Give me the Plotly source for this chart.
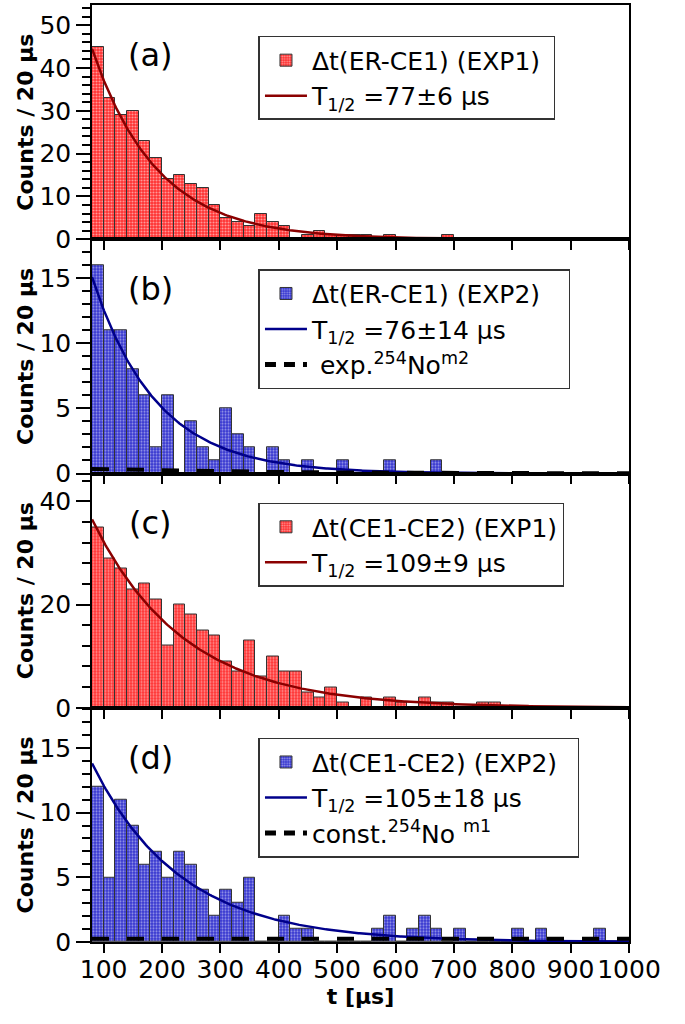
import numpy as np
import plotly.graph_objects as go
from plotly.subplots import make_subplots

# ---------------- data ----------------
bin_width = 20
bin_left = list(range(80, 1000, 20))          # 46 bins: 80..980
bin_center = [b + bin_width / 2 for b in bin_left]

counts_a = [45, 33, 29, 30, 23, 19, 14, 15, 13, 12,
            8, 5, 4, 3, 6, 4, 3, 0, 1, 2,
            1, 1, 1, 1, 0, 1, 0, 0, 0, 0,
            1, 0, 0, 0, 0, 0, 0, 0, 0, 0,
            0, 0, 0, 0, 0, 0]
counts_b = [16, 11, 11, 8, 6, 2, 6, 0, 4, 2,
            1, 5, 3, 2, 0, 2, 1, 0, 1, 0,
            0, 1, 0, 0, 0, 1, 0, 0, 0, 1,
            0, 0, 0, 0, 0, 0, 0, 0, 0, 0,
            0, 0, 0, 0, 0, 0]
counts_c = [35, 29, 27, 23, 24, 21, 12, 20, 18, 15,
            14, 9, 7, 13, 6, 10, 7, 7, 3, 2,
            4, 1, 0, 2, 0, 2, 1, 0, 2, 1,
            1, 0, 0, 1, 1, 0, 0, 0, 0, 0,
            0, 0, 0, 0, 0, 0]
counts_d = [12, 5, 11, 9, 6, 7, 5, 7, 6, 4,
            2, 4, 3, 5, 0, 0, 2, 1, 1, 0,
            0, 0, 0, 0, 1, 2, 0, 1, 2, 1,
            0, 1, 0, 0, 0, 0, 1, 0, 1, 0,
            0, 0, 0, 1, 0, 0]

# fit parameters (amplitude at t = 80 us, half-life in us)
fit_amp = [44.5, 15.1, 36.5, 13.8]
fit_half_life = [77, 76, 109, 105]
bkg_exp_amp, bkg_exp_half_life = 0.35, 198     # panel (b) exp. 254No m2
bkg_const = 0.25                                # panel (d) const. 254No m1

hist_names = ["Δt(ER-CE1) (EXP1)", "Δt(ER-CE1) (EXP2)",
              "Δt(CE1-CE2) (EXP1)", "Δt(CE1-CE2) (EXP2)"]
fit_names = ["T<sub>1/2</sub> =77±6 µs", "T<sub>1/2</sub> =76±14 µs",
             "T<sub>1/2</sub> =109±9 µs", "T<sub>1/2</sub> =105±18 µs"]
bkg_names = {2: " exp.<sup>254</sup>No<sup>m2</sup>", 4: "const.<sup>254</sup>No <sup>m1</sup>"}
panel_labels = ["(a)", "(b)", "(c)", "(d)"]
y_ranges = [[0, 54.7], [0, 18], [0, 45.4], [0, 18.1]]
y_dticks = [10, 5, 20, 5]
y_minor = [2, 1, 4, 1]
x_ticks = list(range(100, 1001, 100))

RED_BG, BLUE_BG = "#ff3030", "#3535d0"
RED_LINE, BLUE_LINE = "#8b0000", "#00008b"
FONT = "DejaVu Sans"

counts = [counts_a, counts_b, counts_c, counts_d]
bar_bg = [RED_BG, BLUE_BG, RED_BG, BLUE_BG]
line_col = [RED_LINE, BLUE_LINE, RED_LINE, BLUE_LINE]
legend_y = [0.967, 0.718, 0.469, 0.218]
legend_pad = [1, 3, 0, 2]   # extra right padding of legend boxes (non-breaking spaces)

fig = make_subplots(rows=4, cols=1, shared_xaxes=True, vertical_spacing=0)

t = np.linspace(80, 1000, 400)
for i in range(4):
    row = i + 1
    leg = "legend" if row == 1 else f"legend{row}"
    fig.add_trace(go.Bar(
        x=bin_center, y=counts[i], width=bin_width,
        name=hist_names[i] + "\u00a0" * legend_pad[i], legend=leg,
        marker=dict(color=bar_bg[i],
                    line=dict(color="#333333", width=1),
                    pattern=dict(shape=".", fillmode="overlay", bgcolor=bar_bg[i],
                                 fgcolor="white", size=3, solidity=0.4)),
    ), row=row, col=1)
    fig.add_trace(go.Scatter(
        x=t, y=fit_amp[i] * 2 ** (-(t - 80) / fit_half_life[i]),
        mode="lines", name=fit_names[i], legend=leg,
        line=dict(color=line_col[i], width=2.5),
    ), row=row, col=1)
    if row in (2, 4):
        if row == 2:
            y_bkg = bkg_exp_amp * 2 ** (-(t - 80) / bkg_exp_half_life)
        else:
            y_bkg = np.full_like(t, bkg_const)
        fig.add_trace(go.Scatter(
            x=t, y=y_bkg, mode="lines", showlegend=False, legend=leg,
            line=dict(color="black", width=4, dash="17px,18px"),
        ), row=row, col=1)
        # legend entry (legend-only, shorter dash pattern like the reference key)
        fig.add_trace(go.Scatter(
            x=[None], y=[None], mode="lines", name=bkg_names[row], legend=leg,
            line=dict(color="black", width=5, dash="11px,8px"),
        ), row=row, col=1)

    fig.update_xaxes(range=[80, 1000], tickvals=x_ticks, ticks="outside", ticklen=9,
                     tickwidth=1.5, tickcolor="black", showline=True, linecolor="black",
                     linewidth=1.5, mirror=True, showgrid=False, zeroline=False,
                     automargin=False,
                     tickfont=dict(family=FONT, size=25, color="black"),
                     row=row, col=1)
    fig.update_yaxes(range=y_ranges[i], dtick=y_dticks[i], tick0=0, ticks="outside",
                     ticklen=14, tickwidth=1.5, tickcolor="black",
                     minor=dict(dtick=y_minor[i], ticks="outside", ticklen=8,
                                tickwidth=1.5, tickcolor="black", showgrid=False),
                     showline=True, linecolor="black", linewidth=1.5, mirror=True,
                     showgrid=False, zeroline=False, automargin=False,
                     tickfont=dict(family=FONT, size=25, color="black"),
                     title=dict(text="Counts / 20 µs", standoff=0,
                                font=dict(family=FONT, size=22, color="black", weight="bold")),
                     row=row, col=1)
    xref = "x domain" if row == 1 else f"x{row} domain"
    yref = "y domain" if row == 1 else f"y{row} domain"
    fig.add_annotation(text=panel_labels[i], xref=xref, yref=yref, x=0.109, y=0.787,
                       showarrow=False, xanchor="center", yanchor="middle",
                       font=dict(family=FONT, size=32, color="black"))
    legend_cfg = dict(x=0.31, y=legend_y[i], xanchor="left", yanchor="top",
                      xref="paper", yref="paper",
                      bgcolor="white", bordercolor="#333333", borderwidth=1.5,
                      font=dict(family=FONT, size=25, color="black"),
                      traceorder="normal", itemwidth=42)
    fig.update_layout({leg: legend_cfg})

fig.update_xaxes(title=dict(text="t [µs]", standoff=3,
                            font=dict(family=FONT, size=22, color="black", weight="bold")),
                 ticklabelstandoff=-5, row=4, col=1)

fig.update_layout(
    width=685, height=1024,
    margin=dict(l=92, r=56, t=5, b=82, autoexpand=False),
    paper_bgcolor="white", plot_bgcolor="rgba(0,0,0,0)",
    bargap=0, barmode="overlay", showlegend=True,
    font=dict(family=FONT, color="black"),
)

fig.write_html("out.html", config={"displayModeBar": False},
               post_script="document.body.style.margin='0px';document.body.style.padding='0px';")
